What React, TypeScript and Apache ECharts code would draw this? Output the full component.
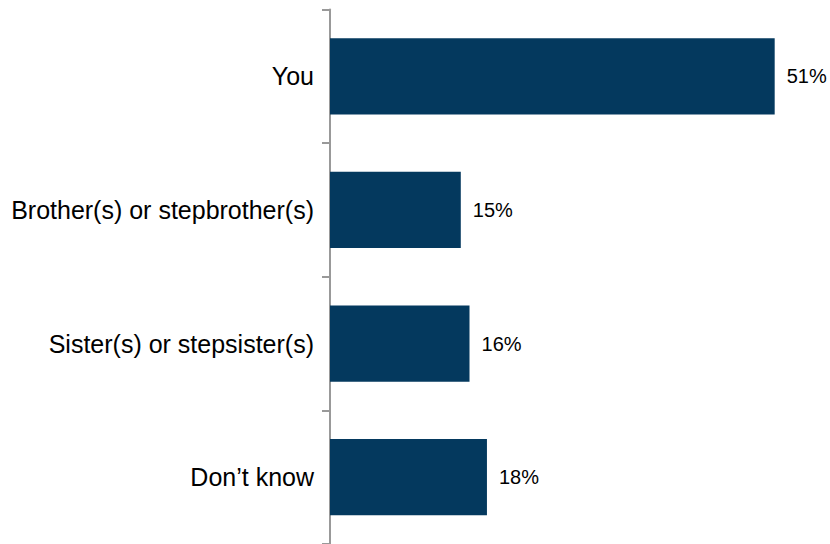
import React, { useEffect, useRef } from "react";
import * as echarts from "echarts";

const categories = ["You", "Brother(s) or stepbrother(s)", "Sister(s) or stepsister(s)", "Don\u2019t know"];
const values = [51, 15, 16, 18];

export default function App() {
  const ref = useRef<HTMLDivElement>(null);
  useEffect(() => {
    if (!ref.current) return;
    const chart = echarts.init(ref.current, null, { renderer: "svg" });
    chart.setOption({
      animation: false,
      backgroundColor: "#ffffff",
      grid: { left: 330, width: 497, top: 9.5, height: 538, containLabel: false },
      xAxis: {
        type: "value",
        min: 0,
        max: 57,
        show: false,
      },
      yAxis: {
        type: "category",
        data: categories,
        inverse: true,
        axisLine: { show: true, lineStyle: { color: "#999999", width: 2 } },
        axisTick: { show: true, length: 8, lineStyle: { color: "#999999", width: 2 } },
        axisLabel: {
          margin: 16,
          color: "#000000",
          fontSize: 25,
          fontFamily: "Liberation Sans, Arial, sans-serif",
        },
        splitLine: { show: false },
      },
      series: [
        {
          type: "bar",
          data: values,
          barCategoryGap: "43%",
          itemStyle: { color: "#04395E" },
          label: {
            show: true,
            position: "right",
            distance: 12,
            formatter: (p: any) => p.value + "%",
            color: "#000000",
            fontSize: 20,
            fontFamily: "Liberation Sans, Arial, sans-serif",
          },
        },
      ],
    });
    return () => chart.dispose();
  }, []);
  return (
    <div
      ref={ref}
      style={{ position: "fixed", left: 0, top: 0, width: 830, height: 544, background: "#fff" }}
    />
  );
}
